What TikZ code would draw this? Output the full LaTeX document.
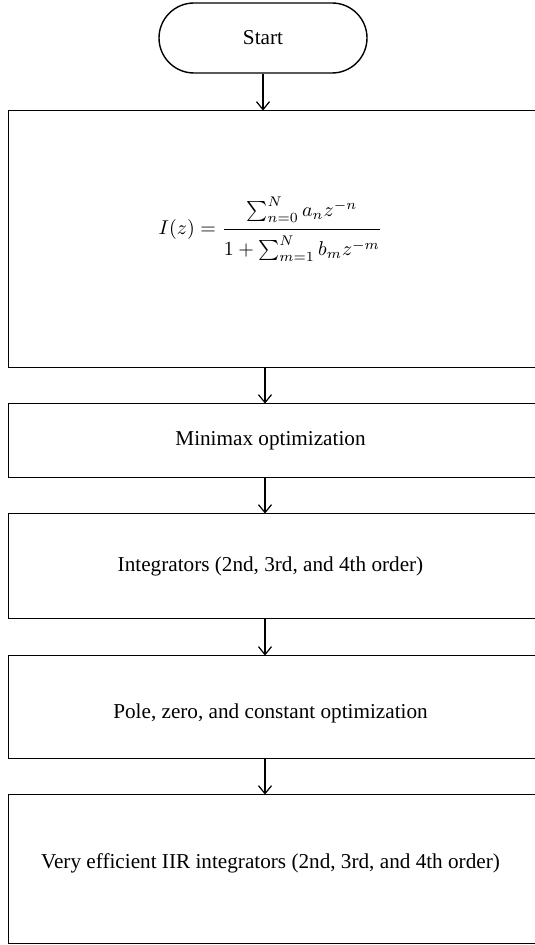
\documentclass[tikz,border=0pt]{standalone}
\usepackage{amsmath}
\usepackage{fontspec}
\setmainfont{Liberation Serif}
\usetikzlibrary{arrows.meta}
\tikzset{
  line/.style={line width=0.7pt, draw=black},
  arr/.style={line, -{Straight Barb[length=4pt,width=6.5pt,line width=0.6pt]}},
  openbox/.style={minimum width=261.5pt, inner sep=0pt, anchor=center,
    font=\fontsize{10.6}{13}\selectfont,
    append after command={
      \pgfextra{\draw[line] ([xshift=4pt]\tikzlastnode.north east) -- (\tikzlastnode.north west)
        -- (\tikzlastnode.south west) -- ([xshift=4pt]\tikzlastnode.south east);}
    }},
  terminal/.style={line, draw, rounded corners=17.5pt, minimum width=104pt,
    minimum height=35pt, inner sep=0pt, font=\fontsize{10.6}{13}\selectfont}
}
\begin{document}
\begin{tikzpicture}[x=0.5pt,y=-0.5pt]
\useasboundingbox (0,0) rectangle (534,945);
\coordinate (ax) at (265,0);
\node[terminal] (start) at (263,38) {Start};
\node[openbox, minimum height=128pt] (b1) at (270.5,239)
  {\fontsize{9.6}{11}\selectfont\raisebox{5pt}[\height][\depth]{$\displaystyle I(z)=\frac{\sum_{n=0}^{N} a_n z^{-n}\rule[-1.2ex]{0pt}{1ex}}{\rule{0pt}{2.6ex}1+\sum_{m=1}^{N} b_m z^{-m}}$}};
\node[openbox, minimum height=36.5pt] (b2) at (270.5,440.5) {Minimax optimization};
\node[openbox, minimum height=52pt] (b3) at (270.5,566) {Integrators (2nd, 3rd, and 4th order)};
\node[openbox, minimum height=51pt] (b4) at (270.5,707)
  {\raisebox{-3pt}[\height][\depth]{Pole, zero, and constant optimization}};
\node[openbox, minimum height=74pt] (b5) at (270.5,869)
  {\raisebox{3pt}[\height][\depth]{Very efficient IIR integrators (2nd, 3rd, and 4th order)}};
\draw[arr] (start.south) -- (b1.north -| start.south);
\draw[arr] (b1.south -| ax) -- (b2.north -| ax);
\draw[arr] (b2.south -| ax) -- (b3.north -| ax);
\draw[arr] (b3.south -| ax) -- (b4.north -| ax);
\draw[arr] (b4.south -| ax) -- (b5.north -| ax);
\end{tikzpicture}
\end{document}
